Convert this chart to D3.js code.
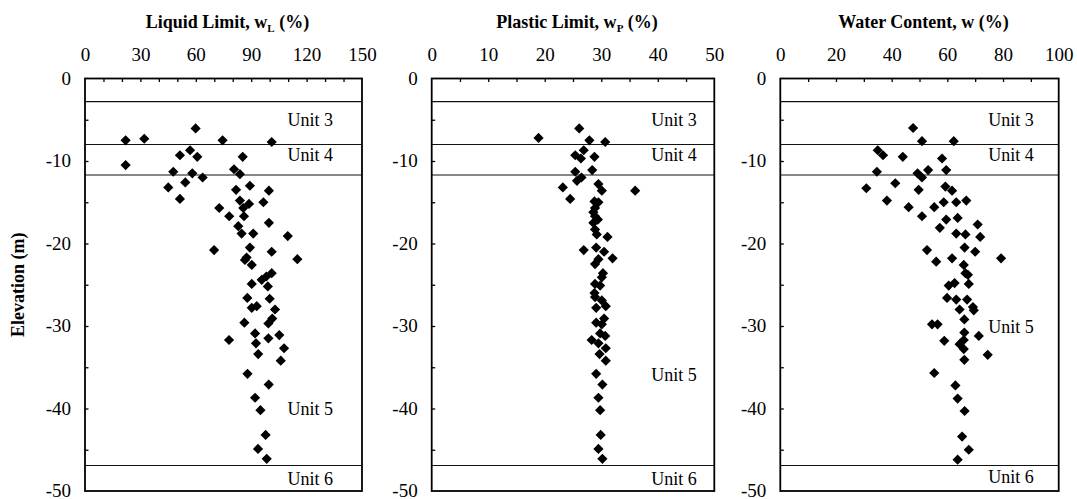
<!DOCTYPE html>
<html>
<head>
<meta charset="utf-8">
<script src="https://cdn.jsdelivr.net/npm/d3@7"></script>
<style>
  html, body { margin: 0; padding: 0; background: #fff; }
  svg { display: block; }
  svg text { font-family: "Liberation Serif", "DejaVu Serif", serif !important; }
</style>
</head>
<body>
<svg id="chart" width="1077" height="499"></svg>
<script>
const SERIF = "'Liberation Serif', 'DejaVu Serif', serif";

// Liquid limit (%) and elevation (m)
const llValue = [22.0, 32.1, 59.9, 74.5, 101.1, 22.0, 51.4, 56.9, 60.8, 85.4,
  47.8, 58.1, 63.7, 80.7, 83.9, 45.1, 54.3, 51.4, 81.8, 89.3,
  99.6, 83.9, 96.6, 72.7, 85.7, 78.1, 86.1, 83.0, 99.6, 84.8,
  91.1, 109.8, 69.9, 89.3, 101.1, 115.0, 87.5, 90.3, 101.1, 98.2,
  95.7, 90.3, 99.0, 87.9, 100.0, 90.3, 93.0, 102.9, 101.4, 99.3,
  86.3, 105.2, 92.1, 78.0, 99.3, 92.6, 107.8, 93.8, 106.0, 88.0,
  99.5, 92.1, 95.0, 97.8, 93.7, 98.4, 88.8, 86.6];
const llElev = [-7.5, -7.3, -6.05, -7.5, -7.7, -10.5, -9.3, -8.7, -9.5, -9.5,
  -11.3, -11.5, -12.0, -11.0, -11.6, -13.2, -12.6, -14.6, -13.5, -13.0,
  -13.6, -14.8, -15.0, -15.7, -15.7, -16.7, -16.7, -17.9, -17.5, -18.8,
  -18.8, -19.1, -20.8, -20.5, -21.0, -21.9, -21.7, -22.6, -23.6, -24.0,
  -24.4, -24.9, -25.2, -26.6, -26.7, -27.8, -27.6, -28.0, -29.1, -29.7,
  -29.6, -31.1, -30.9, -31.7, -31.5, -32.1, -32.7, -33.4, -34.2, -35.8,
  -37.1, -38.7, -40.2, -43.2, -44.9, -46.1, -15.2, -22.0];

// Plastic limit (%) and elevation (m)
const plValue = [18.9, 26.1, 27.9, 30.7, 26.9, 25.4, 26.4, 28.8, 25.4, 28.4,
  26.5, 25.7, 23.2, 29.5, 30.1, 36.0, 24.5, 28.8, 29.5, 28.9,
  28.9, 28.6, 28.9, 29.2, 31.1, 26.9, 29.1, 30.5, 32.0, 29.5,
  28.9, 30.3, 30.1, 28.9, 29.8, 28.9, 30.1, 29.1, 30.8, 30.5,
  29.1, 30.1, 29.8, 30.7, 28.3, 29.5, 30.8, 29.7, 30.8, 29.1,
  30.2, 29.5, 29.8, 29.9, 29.5, 30.2, 28.6, 29.4, 28.8];
const plElev = [-7.2, -6.05, -7.5, -7.7, -8.7, -9.3, -9.7, -9.5, -11.3, -11.1,
  -12.0, -12.4, -13.2, -12.8, -13.6, -13.6, -14.6, -14.9, -15.0, -15.7,
  -16.7, -17.5, -18.3, -18.9, -19.2, -20.8, -20.5, -21.0, -21.8, -21.9,
  -22.5, -23.6, -24.1, -24.9, -25.1, -26.5, -26.9, -27.8, -27.6, -29.1,
  -29.6, -29.8, -30.9, -31.2, -31.7, -32.1, -32.7, -33.4, -34.2, -35.8,
  -37.1, -38.7, -40.2, -43.2, -44.9, -46.1, -16.2, -17.1, -26.0];

// Water content (%) and elevation (m)
const wcValue = [47.7, 50.9, 62.3, 35.0, 36.9, 44.0, 58.1, 34.7, 49.3, 50.9,
  53.1, 59.6, 30.9, 41.3, 49.7, 59.3, 61.7, 38.3, 46.1, 55.3,
  58.7, 63.2, 66.8, 50.9, 59.6, 63.7, 57.3, 70.9, 63.2, 66.5,
  71.8, 52.7, 66.2, 70.0, 79.3, 61.7, 56.0, 65.9, 66.5, 67.4,
  67.7, 62.6, 60.5, 59.9, 63.2, 67.1, 64.4, 69.2, 69.5, 66.1,
  54.5, 56.5, 66.1, 71.3, 58.9, 65.9, 64.4, 65.9, 74.5, 66.1,
  55.3, 62.9, 63.7, 66.2, 65.3, 67.7, 63.7];
const wcElev = [-6.0, -7.6, -7.6, -8.7, -9.3, -9.5, -9.7, -11.3, -11.5, -12.0,
  -11.1, -11.1, -13.3, -12.7, -13.5, -13.1, -13.6, -14.8, -15.6, -15.6,
  -15.0, -15.0, -14.8, -16.7, -17.1, -16.9, -18.1, -17.7, -18.8, -18.9,
  -19.2, -20.8, -20.5, -21.0, -21.8, -21.8, -22.2, -22.6, -23.6, -23.8,
  -24.9, -24.8, -25.1, -26.6, -26.8, -26.8, -28.0, -27.7, -28.1, -29.2,
  -29.8, -29.8, -30.8, -31.2, -31.8, -31.7, -32.2, -32.8, -33.5, -34.1,
  -35.7, -37.2, -38.8, -40.3, -43.4, -45.0, -46.2];

// Stratigraphic unit boundaries (m) and unit names
const unitBoundaries = [-2.8, -8.0, -11.7, -46.9];
const unitNames = ["Unit 3", "Unit 4", "Unit 5", "Unit 6"];

// Axis ticks
const elevTicks = [0, -10, -20, -30, -40, -50];
const llTicks = [0, 30, 60, 90, 120, 150];
const plTicks = [0, 10, 20, 30, 40, 50];
const wcTicks = [0, 20, 40, 60, 80, 100];

// Panel layout
const yTop = 78.5, yBottom = 491;
const panels = [
  { title: ["Liquid Limit, w", "L", " (%)"], values: llValue, elev: llElev, ticks: llTicks,
    minorStep: 10, x0: 85, x1: 362, labelRight: 29,
    labelElev: [-5.75, -9.95, -40.8, -49.25] },
  { title: ["Plastic Limit, w", "P", " (%)"], values: plValue, elev: plElev, ticks: plTicks,
    minorStep: 5, x0: 431.7, x1: 714.3, labelRight: 17.5,
    labelElev: [-5.75, -9.95, -36.7, -49.25] },
  { title: ["Water Content, w", "", " (%)"], values: wcValue, elev: wcElev, ticks: wcTicks,
    minorStep: 10, x0: 780.3, x1: 1058.7, labelRight: 25,
    labelElev: [-5.75, -9.95, -30.9, -49.0] }
];

const svg = d3.select("#chart");
const y = d3.scaleLinear().domain([0, -50]).range([yTop, yBottom]);

// Diamond marker: a square rotated by 45 degrees
const diamond = d3.symbol().type(d3.symbolSquare).size(52)();

panels.forEach((p, i) => {
  const domainMax = p.ticks[p.ticks.length - 1];
  const x = d3.scaleLinear().domain([0, domainMax]).range([p.x0, p.x1]);
  const g = svg.append("g").attr("font-family", SERIF);

  // Title with subscript
  const title = g.append("text")
    .attr("x", (p.x0 + p.x1) / 2 + 4)
    .attr("y", 28)
    .attr("text-anchor", "middle")
    .attr("font-family", SERIF)
    .attr("font-size", 18)
    .attr("font-weight", "bold");
  title.append("tspan").text(p.title[0]);
  if (p.title[1]) {
    title.append("tspan").attr("font-size", 11).attr("dy", 4).text(p.title[1]);
    title.append("tspan").attr("dy", -4).text(p.title[2]);
  } else {
    title.append("tspan").text(p.title[2]);
  }

  // Top axis labels (numbers only, ticks drawn inside the frame)
  const topAxis = d3.axisTop(x).tickValues(p.ticks).tickSize(0).tickPadding(0)
    .tickFormat(d3.format("d"));
  g.append("g")
    .attr("transform", `translate(0,${yTop - 18})`)
    .call(topAxis)
    .attr("font-family", SERIF)
    .call(s => s.select(".domain").remove())
    .call(s => s.selectAll("text")
      .attr("font-size", 19)
      .attr("font-family", SERIF)
      .attr("fill", "#000")
      .attr("dy", 0));

  // Inward minor ticks along the top edge
  const minorTicks = d3.range(p.minorStep, domainMax, p.minorStep);
  g.append("g")
    .attr("transform", `translate(0,${yTop})`)
    .call(d3.axisBottom(x).tickValues(minorTicks).tickSize(3.5).tickFormat(""))
    .call(s => s.select(".domain").remove())
    .call(s => s.selectAll("line").attr("stroke", "#000").attr("stroke-width", 1.3));

  // Left axis: labels outside, ticks inside
  g.append("g")
    .attr("transform", `translate(${p.x0 - 14},0)`)
    .call(d3.axisLeft(y).tickValues(elevTicks).tickSize(0).tickPadding(0)
      .tickFormat(d => d === 0 ? "0" : "-" + Math.abs(d)))
    .attr("font-family", SERIF)
    .call(s => s.select(".domain").remove())
    .call(s => s.selectAll("text")
      .attr("font-size", 19)
      .attr("font-family", SERIF)
      .attr("fill", "#000")
      .attr("dy", "0.3em"));
  g.append("g")
    .attr("transform", `translate(${p.x0},0)`)
    .call(d3.axisRight(y).tickValues(d3.range(-5, -50, -5)).tickSize(3.5).tickFormat(""))
    .call(s => s.select(".domain").remove())
    .call(s => s.selectAll("line").attr("stroke", "#000").attr("stroke-width", 1.3));

  // Unit boundary lines
  g.selectAll("line.unit")
    .data(unitBoundaries)
    .join("line")
    .attr("class", "unit")
    .attr("x1", p.x0).attr("x2", p.x1)
    .attr("y1", d => y(d)).attr("y2", d => y(d))
    .attr("stroke", "#111").attr("stroke-width", 1.1);

  // Unit labels
  g.selectAll("text.unitlabel")
    .data(unitNames)
    .join("text")
    .attr("class", "unitlabel")
    .attr("x", p.x1 - p.labelRight)
    .attr("y", (d, k) => y(p.labelElev[k]))
    .attr("text-anchor", "end")
    .attr("font-family", SERIF)
    .attr("font-size", 18)
    .attr("fill", "#000")
    .text(d => d);

  // Data points
  g.selectAll("path.pt")
    .data(p.values.map((v, k) => [v, p.elev[k]]))
    .join("path")
    .attr("class", "pt")
    .attr("d", diamond)
    .attr("transform", d => `translate(${x(d[0])},${y(d[1])}) rotate(45)`)
    .attr("fill", "#000");

  // Frame
  g.append("rect")
    .attr("x", p.x0).attr("y", yTop)
    .attr("width", p.x1 - p.x0).attr("height", yBottom - yTop)
    .attr("fill", "none")
    .attr("stroke", "#000")
    .attr("stroke-width", 1.8);
});

// Shared vertical axis title
svg.append("text")
  .attr("transform", `translate(24,${(yTop + yBottom) / 2}) rotate(-90)`)
  .attr("text-anchor", "middle")
  .attr("font-family", SERIF)
  .attr("font-size", 18)
  .attr("font-weight", "bold")
  .text("Elevation (m)");
</script>
</body>
</html>
